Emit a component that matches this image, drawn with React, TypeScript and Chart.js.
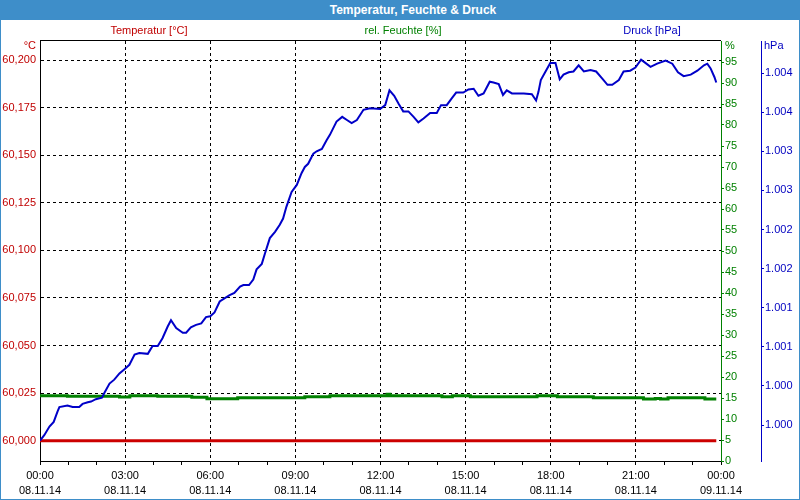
import React, { useEffect, useRef } from "react";
import { Chart, registerables } from "chart.js";

Chart.register(...registerables);

const FONT = "'Liberation Sans', Arial, sans-serif";

// ---- data ----
const chartTitle = "Temperatur, Feuchte & Druck";
const seriesNames = ["Temperatur [°C]", "rel. Feuchte [%]", "Druck [hPa]"];
const unitLabels = ["°C", "%", "hPa"];

const timeLabels = ["00:00", "03:00", "06:00", "09:00", "12:00", "15:00", "18:00", "21:00", "00:00"];
const dateLabels = ["08.11.14", "08.11.14", "08.11.14", "08.11.14", "08.11.14", "08.11.14", "08.11.14", "08.11.14", "09.11.14"];

const tempTicks = [60.0, 60.025, 60.05, 60.075, 60.1, 60.125, 60.15, 60.175, 60.2];
const humidityTicks = [0, 5, 10, 15, 20, 25, 30, 35, 40, 45, 50, 55, 60, 65, 70, 75, 80, 85, 90, 95];
const pressureTickValues = [1.0, 1.0005, 1.001, 1.0015, 1.002, 1.0025, 1.003, 1.0035, 1.004, 1.0045];
const pressureTickLabels = ["1.000", "1.000", "1.001", "1.001", "1.002", "1.002", "1.003", "1.003", "1.004", "1.004"];

// minutes since 08.11.14 00:00
const tempTimes = [0, 360, 720, 1080, 1430];
const tempValues = [60.0, 60.0, 60.0, 60.0, 60.0];

const humidityTimes = [0, 58, 168, 190, 249, 321, 353, 418, 560, 613, 734, 740, 850, 872, 910, 1051, 1094, 1170, 1276, 1301, 1312, 1328, 1406, 1430];
const humidityValues = [15.55, 15.4, 15.25, 15.55, 15.4, 15.15, 14.85, 15.05, 15.3, 15.55, 15.9, 15.55, 15.3, 15.55, 15.3, 15.55, 15.3, 15.05, 14.75, 14.9, 14.75, 15.05, 14.75, 14.75];

const pressureTimes = [0, 9, 20, 29, 37, 41, 58, 69, 83, 90, 101, 108, 118, 131, 136, 147, 157, 168, 178, 189, 200, 210, 228, 238, 249, 259, 270, 277, 288, 302, 309, 319, 330, 341, 351, 360, 369, 380, 390, 401, 411, 423, 430, 442, 451, 458, 469, 476, 486, 497, 507, 514, 521, 532, 543, 553, 560, 567, 578, 585, 596, 606, 613, 627, 639, 649, 659, 670, 684, 698, 719, 730, 739, 749, 758, 768, 779, 790, 800, 811, 825, 839, 848, 860, 871, 880, 895, 906, 917, 927, 938, 951, 959, 970, 979, 987, 998, 1023, 1040, 1049, 1054, 1059, 1069, 1079, 1090, 1099, 1107, 1118, 1128, 1139, 1150, 1164, 1176, 1189, 1200, 1210, 1224, 1234, 1248, 1259, 1271, 1280, 1291, 1305, 1323, 1337, 1349, 1361, 1376, 1390, 1404, 1411, 1418, 1426, 1430];
const pressureValues = [
  0.9998, 0.99987, 0.99998, 1.00004, 1.00017, 1.00023, 1.00025, 1.00023, 1.00023, 1.00027,
  1.00029, 1.0003, 1.00033, 1.00035, 1.00041, 1.00053, 1.00058, 1.00066, 1.00071, 1.00077,
  1.0009, 1.00092, 1.00091, 1.00101, 1.00101, 1.00111, 1.00126, 1.00134, 1.00124, 1.00118,
  1.00118, 1.00125, 1.00128, 1.0013, 1.00138, 1.00139, 1.00144, 1.00158, 1.00162, 1.00166,
  1.00169, 1.00177, 1.00179, 1.00179, 1.00186, 1.00199, 1.00206, 1.0022, 1.00239, 1.00247,
  1.00256, 1.00264, 1.00279, 1.00298, 1.00307, 1.00322, 1.0033, 1.00334, 1.00347, 1.0035,
  1.00353, 1.00364, 1.00371, 1.00388, 1.00394, 1.0039, 1.00386, 1.0039, 1.00403, 1.00405,
  1.00404, 1.00409, 1.00428, 1.00421, 1.00411, 1.00401, 1.00401, 1.00394, 1.00387, 1.00392,
  1.00399, 1.00399, 1.00409, 1.00409, 1.00418, 1.00425, 1.00425, 1.00429, 1.0043, 1.00421,
  1.00424, 1.00439, 1.00438, 1.00436, 1.00422, 1.00428, 1.00424, 1.00424, 1.00423, 1.00415,
  1.00426, 1.00441, 1.00452, 1.00463, 1.00463, 1.00442, 1.00448, 1.00451, 1.00452, 1.0046,
  1.00452, 1.00454, 1.00452, 1.00443, 1.00435, 1.00435, 1.00441, 1.00452, 1.00453, 1.00457,
  1.00467, 1.00463, 1.00458, 1.00462, 1.00466, 1.00462, 1.00451, 1.00446, 1.00448, 1.00453,
  1.0046, 1.00462, 1.00456, 1.00445, 1.00438,
];

const RED = "#cc0000";
const GREEN = "#008000";
const BLUE = "#0000c8";
const TEXT_RED = "#c00000";
const TEXT_GREEN = "#008000";
const TEXT_BLUE = "#0000c0";

const toPoints = (xs: number[], ys: number[]) => xs.map((x, i) => ({ x, y: ys[i] }));

const decorPlugin = {
  id: "decor",
  afterDraw(chart: any) {
    const { ctx, chartArea } = chart;
    ctx.save();
    // top frame line
    ctx.strokeStyle = "#000";
    ctx.lineWidth = 1;
    ctx.beginPath();
    ctx.moveTo(chartArea.left, Math.round(chartArea.top) - 0.5);
    ctx.lineTo(chartArea.right, Math.round(chartArea.top) - 0.5);
    ctx.stroke();

    ctx.font = `11px ${FONT}`;
    ctx.textBaseline = "middle";
    // series header labels
    const headerColors = [TEXT_RED, TEXT_GREEN, TEXT_BLUE];
    const headerX = [149, 403, 652];
    ctx.textAlign = "center";
    seriesNames.forEach((n, i) => {
      ctx.fillStyle = headerColors[i];
      ctx.fillText(n, headerX[i], 31);
    });
    // unit labels on axes
    const yL = chart.scales.yTemp;
    const yH = chart.scales.yHum;
    const yP = chart.scales.yPres;
    ctx.textAlign = "right";
    ctx.fillStyle = TEXT_RED;
    ctx.fillText(unitLabels[0], yL.right - 4, 46);
    ctx.textAlign = "left";
    ctx.fillStyle = TEXT_GREEN;
    ctx.fillText(unitLabels[1], yH.left + 4, 46);
    ctx.fillStyle = TEXT_BLUE;
    ctx.fillText(unitLabels[2], yP.left + 3, 46);
    ctx.restore();
  },
};

export default function App() {
  const canvasRef = useRef<HTMLCanvasElement | null>(null);

  useEffect(() => {
    if (!canvasRef.current) return;
    Chart.defaults.font.family = FONT;
    Chart.defaults.font.size = 11;
    const chart = new Chart(canvasRef.current, {
      type: "line",
      data: {
        datasets: [
          {
            label: seriesNames[0],
            data: toPoints(tempTimes, tempValues),
            borderColor: RED,
            borderWidth: 3,
            pointRadius: 0,
            yAxisID: "yTemp",
            order: 3,
          },
          {
            label: seriesNames[1],
            data: toPoints(humidityTimes, humidityValues),
            borderColor: GREEN,
            borderWidth: 3,
            pointRadius: 0,
            stepped: true,
            yAxisID: "yHum",
            order: 2,
          },
          {
            label: seriesNames[2],
            data: toPoints(pressureTimes, pressureValues),
            borderColor: BLUE,
            borderWidth: 2,
            pointRadius: 0,
            yAxisID: "yPres",
            order: 1,
          },
        ],
      },
      options: {
        animation: false,
        responsive: false,
        maintainAspectRatio: false,
        layout: { padding: { top: 41, left: 0, right: 0, bottom: 0 } },
        plugins: { legend: { display: false }, title: { display: false }, tooltip: { enabled: false } },
        scales: {
          x: {
            type: "linear",
            position: "bottom",
            min: 0,
            max: 1440,
            afterBuildTicks: (s: any) => {
              const t = [];
              for (let v = 0; v <= 1440; v += 60) t.push({ value: v });
              s.ticks = t;
            },
            ticks: {
              autoSkip: false,
              maxRotation: 0,
              color: "#000",
              padding: 3,
              font: { size: 11, lineHeight: "15px" } as any,
              callback: (v: any) => {
                const n = Number(v);
                if (n % 180 !== 0) return "";
                const i = n / 180;
                return [timeLabels[i], dateLabels[i]];
              },
            },
            grid: {
              color: (c: any) => {
                const v = c.tick ? c.tick.value : 0;
                return v % 180 === 0 && v !== 0 && v !== 1440 ? "#000" : "rgba(0,0,0,0)";
              },
              tickColor: "#000",
              tickLength: 4,
              lineWidth: 1,
            },
            border: { color: "#000", width: 1, dash: [3, 3] },
            afterFit: (s: any) => {
              s.height = 39;
            },
          },
          yTemp: {
            type: "linear",
            position: "left",
            min: 59.9893,
            max: 60.2101,
            afterBuildTicks: (s: any) => {
              s.ticks = tempTicks.map((v) => ({ value: v }));
            },
            ticks: {
              color: TEXT_RED,
              padding: 4,
              font: { size: 11 },
              callback: (v: any) => Number(v).toFixed(3).replace(".", ","),
            },
            grid: { color: "#000", drawTicks: false, lineWidth: 1 },
            border: { color: "#000", width: 1, dash: [3, 3] },
            afterFit: (s: any) => {
              s.width = 40;
            },
          },
          yHum: {
            type: "linear",
            position: "right",
            weight: 0,
            min: 0,
            max: 100,
            afterBuildTicks: (s: any) => {
              s.ticks = humidityTicks.map((v) => ({ value: v }));
            },
            ticks: { color: TEXT_GREEN, padding: 1, font: { size: 11 } },
            grid: { drawOnChartArea: false, tickColor: GREEN, tickLength: 3 },
            border: { color: GREEN, width: 1 },
            afterFit: (s: any) => {
              s.width = 40;
            },
          },
          yPres: {
            type: "linear",
            position: "right",
            weight: 1,
            min: 0.99954,
            max: 1.00491,
            afterBuildTicks: (s: any) => {
              s.ticks = pressureTickValues.map((v) => ({ value: v }));
            },
            ticks: {
              color: TEXT_BLUE,
              padding: 1,
              font: { size: 11 },
              callback: (_v: any, i: number) => pressureTickLabels[i],
            },
            grid: { drawOnChartArea: false, tickColor: BLUE, tickLength: 3 },
            border: { color: BLUE, width: 1 },
            afterFit: (s: any) => {
              s.width = 39;
            },
          },
        },
      },
      plugins: [decorPlugin],
    } as any);
    return () => chart.destroy();
  }, []);

  return (
    <div
      style={{
        position: "fixed",
        left: 0,
        top: 0,
        width: 800,
        height: 500,
        background: "#fff",
        overflow: "hidden",
      }}
    >
      <canvas ref={canvasRef} width={800} height={500} style={{ position: "absolute", left: 0, top: 0, width: 800, height: 500 }} />
      <div
        style={{
          position: "absolute",
          left: 0,
          top: 0,
          width: 800,
          height: 20,
          background: "#3e8ec9",
          color: "#fff",
          fontFamily: FONT,
          fontWeight: "bold",
          fontSize: 12,
          lineHeight: "20px",
          textAlign: "center",
          paddingLeft: 26,
          boxSizing: "border-box",
        }}
      >
        {chartTitle}
      </div>
      <div
        style={{
          position: "absolute",
          left: 0,
          top: 0,
          width: 800,
          height: 500,
          border: "1px solid #3e8ec9",
          boxSizing: "border-box",
          pointerEvents: "none",
        }}
      />
    </div>
  );
}
